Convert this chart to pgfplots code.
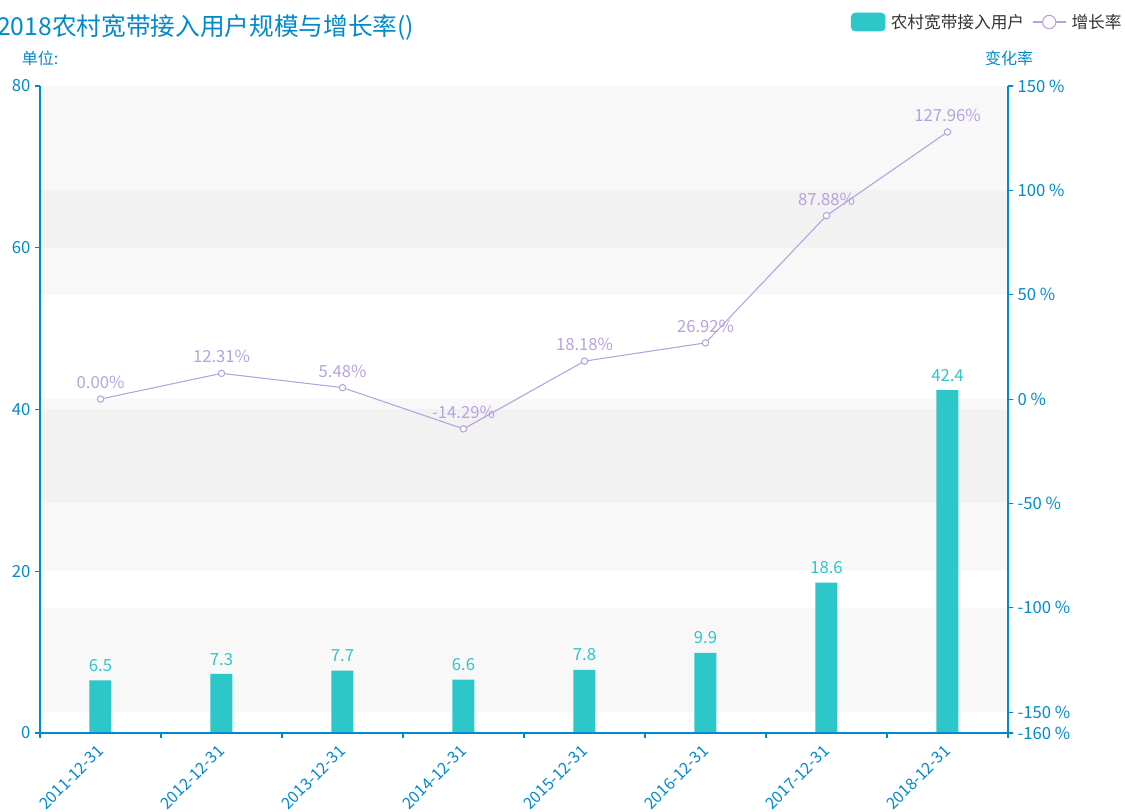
\documentclass[border=0pt]{standalone}
\usepackage{fontspec}
\setmainfont{Noto Sans CJK SC}
\usepackage{pgfplots}
\pgfplotsset{compat=1.18}
\definecolor{axisblue}{HTML}{008ACD}
\definecolor{barteal}{HTML}{2EC7C9}
\definecolor{linepurple}{HTML}{B6A2DE}
\definecolor{bandlight}{HTML}{F8F8F8}
\definecolor{banddark}{HTML}{F2F2F2}
\definecolor{legtext}{HTML}{333333}

\pgfplotstableread{
x users
0 6.5
1 7.3
2 7.7
3 6.6
4 7.8
5 9.9
6 18.6
7 42.4
}\userdata
\pgfplotstableread{
x rate
0 0.00
1 12.31
2 5.48
3 -14.29
4 18.18
5 26.92
6 87.88
7 127.96
}\ratedata

\begin{document}
\begin{tikzpicture}
\useasboundingbox (-30pt,-59.25pt) rectangle (813.75pt,549.75pt);
\pgfplotsset{
  /pgf/number format/assume math mode=true,
  common/.style={
    scale only axis, width=726pt, height=485.25pt,
    at={(0,0)}, anchor=south west,
    xmin=-0.5, xmax=7.5,
    tick align=outside,
    axis line style={-, axisblue, line width=1pt},
    every tick/.style={axisblue, line width=0.8pt},
    tick label style={color=axisblue, font=\fontsize{12.5}{14}\selectfont},
    major tick length=3.75pt,
    minor tick length=3.75pt,
  },
}
\begin{axis}[common, axis on top,
  axis y line*=left, axis x line*=bottom,
  ymin=0, ymax=80, ytick={0,20,40,60,80},
  xtick={0,...,7},
  xticklabels={2011-12-31,2012-12-31,2013-12-31,2014-12-31,2015-12-31,2016-12-31,2017-12-31,2018-12-31},
  minor xtick={-0.5,0.5,...,7.5},
  major x tick style={draw=none},
  xticklabel style={rotate=45, anchor=north east, xshift=-2pt, yshift=2.5pt, font=\fontsize{12}{14}\selectfont},
]
% split-area bands
\addplot[draw=none, fill=bandlight, forget plot] coordinates {(-0.5,67.10) (7.5,67.10) (7.5,80) (-0.5,80)} -- cycle;
\addplot[draw=none, fill=banddark, forget plot] coordinates {(-0.5,60) (7.5,60) (7.5,67.10) (-0.5,67.10)} -- cycle;
\addplot[draw=none, fill=bandlight, forget plot] coordinates {(-0.5,54.19) (7.5,54.19) (7.5,60) (-0.5,60)} -- cycle;
\addplot[draw=none, fill=bandlight, forget plot] coordinates {(-0.5,40) (7.5,40) (7.5,41.29) (-0.5,41.29)} -- cycle;
\addplot[draw=none, fill=banddark, forget plot] coordinates {(-0.5,28.39) (7.5,28.39) (7.5,40) (-0.5,40)} -- cycle;
\addplot[draw=none, fill=bandlight, forget plot] coordinates {(-0.5,20) (7.5,20) (7.5,28.39) (-0.5,28.39)} -- cycle;
\addplot[draw=none, fill=bandlight, forget plot] coordinates {(-0.5,2.58) (7.5,2.58) (7.5,15.48) (-0.5,15.48)} -- cycle;
% bars
\addplot[ybar, bar width=16.5pt, fill=barteal, draw=none,
  nodes near coords, point meta=y,
  every node near coord/.append style={color=barteal, font=\fontsize{12.5}{14}\selectfont, anchor=south, yshift=3pt}]
  table[x=x, y=users] {\userdata};
\end{axis}

\begin{axis}[common,
  axis y line*=right, axis x line=none,
  ymin=-160, ymax=150, ytick={-160,-150,-100,-50,0,50,100,150},
  yticklabel={\pgfmathprintnumber{\tick} \%},
  legend style={at={(0.8375,1.0989)}, anchor=west, draw=none, fill=none,
    legend columns=-1, font=\fontsize{12.5}{14}\selectfont, text=legtext, inner sep=0pt,
    nodes={inner sep=4pt},
    /tikz/every even column/.append style={column sep=2pt}},
]
\addlegendimage{legend image code/.code={\fill[barteal, rounded corners=3pt] (0pt,-6.75pt) rectangle (25.5pt,6.75pt);}}
\addlegendentry{农村宽带接入用户}
\addplot[linepurple, line width=0.8pt, mark=*, mark size=2.4pt,
  mark options={fill=white, draw=linepurple, line width=0.8pt},
  nodes near coords={\pgfmathprintnumber[fixed,fixed zerofill,precision=2]{\pgfplotspointmeta}\%},
  point meta=y,
  every node near coord/.append style={color=linepurple, font=\fontsize{12.5}{14}\selectfont, anchor=south, yshift=4pt},
  legend image code/.code={\draw[linepurple, line width=0.8pt] (0pt,0pt) -- (24.75pt,0pt);
     \draw[linepurple, line width=0.8pt, fill=white] (12.4pt,0pt) circle (5pt);}]
  table[x=x, y=rate] {\ratedata};
\addlegendentry{增长率}
\end{axis}

\begin{scope}[x=0.75pt, y=0.75pt]
\node[anchor=west, inner sep=0pt, text=axisblue, font=\fontsize{18.5}{21}\selectfont] at (-43,706) {2018农村宽带接入用户规模与增长率()};
\node[inner sep=0pt, text=axisblue, font=\fontsize{12}{14}\selectfont] at (0,675) {单位:};
\node[inner sep=0pt, text=axisblue, font=\fontsize{12}{14}\selectfont] at (969,675) {变化率};
\end{scope}
\end{tikzpicture}
\end{document}
